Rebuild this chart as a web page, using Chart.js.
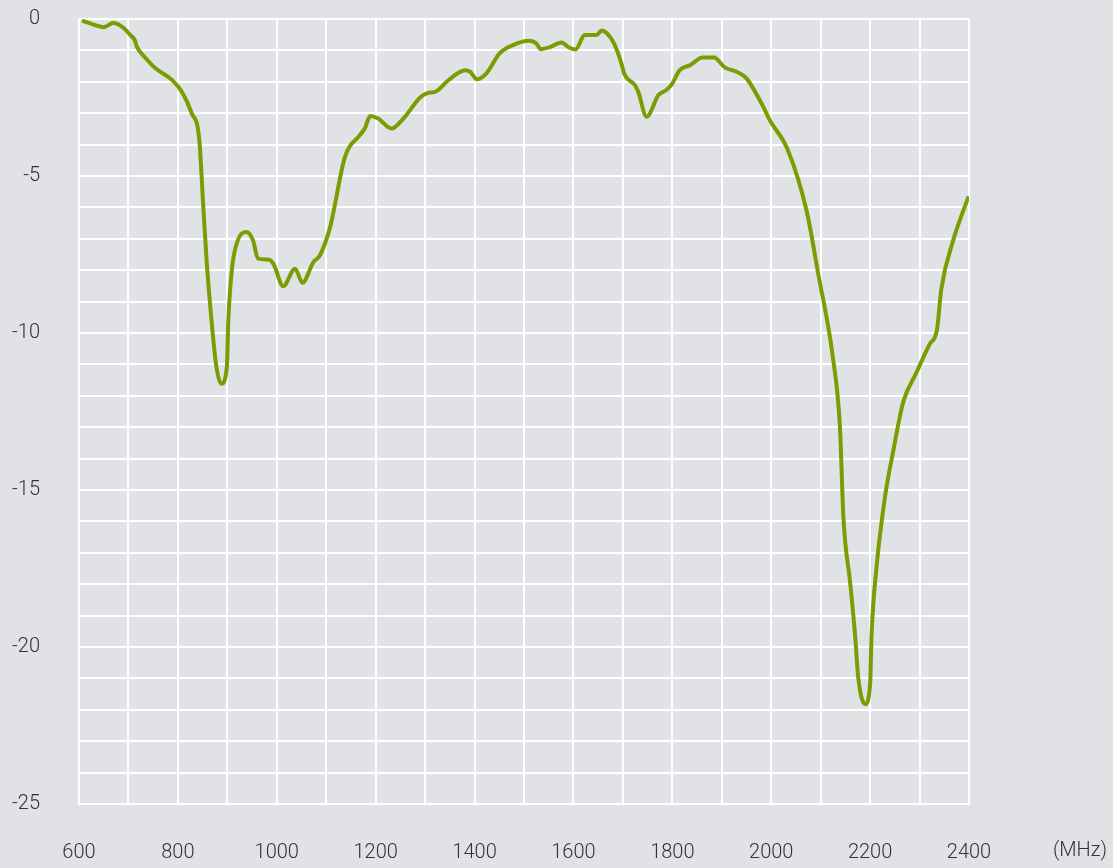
<!DOCTYPE html>
<html>
<head>
<meta charset="utf-8">
<script src="https://cdn.jsdelivr.net/npm/chart.js@4/dist/chart.umd.min.js"></script>
<style>
  html, body { margin: 0; padding: 0; background: #e1e2e6; }
  #wrap { width: 1113px; height: 868px; }
</style>
</head>
<body>
<div id="wrap"><canvas id="chart"></canvas></div>
<script>
// Frequency (MHz) and return loss (dB)
const freqs = [
  606, 642, 650, 669, 690, 703, 713, 717, 735, 754, 788, 808, 828, 843, 851, 858, 868, 878, 888, 899,
  902, 909, 919, 939, 952, 962, 983, 993, 1013, 1037, 1052, 1074, 1087, 1108, 1138, 1168, 1178, 1189,
  1205, 1232, 1256, 1290, 1303, 1323, 1347, 1381, 1391, 1405, 1424, 1451, 1478, 1509, 1525, 1534,
  1552, 1576, 1590, 1604, 1623, 1647, 1657, 1681, 1695, 1704, 1724, 1731, 1748, 1772, 1788, 1798,
  1815, 1836, 1861, 1884, 1906, 1930, 1950, 1984, 1997, 2033, 2072, 2095, 2124, 2139, 2146, 2160,
  2170, 2176, 2190, 2200, 2203, 2213, 2230, 2247, 2267, 2294, 2321, 2335, 2344, 2368, 2399
];
const values = [
  -0.05, -0.24, -0.26, -0.13, -0.28, -0.5, -0.68, -0.88, -1.25, -1.56, -1.94, -2.32, -3.0, -3.8, -5.87, -7.68, -9.6, -11.09, -11.62, -11.09,
  -9.6, -8.0, -7.15, -6.78, -7.05, -7.63, -7.66, -7.79, -8.51, -7.95, -8.40, -7.74, -7.53, -6.62, -4.39, -3.70, -3.49, -3.09,
  -3.17, -3.49, -3.17, -2.50, -2.37, -2.30, -1.95, -1.63, -1.68, -1.92, -1.73, -1.09, -0.83, -0.69, -0.78, -0.96,
  -0.90, -0.75, -0.90, -0.97, -0.51, -0.51, -0.37, -0.75, -1.31, -1.79, -2.10, -2.32, -3.11, -2.42, -2.26, -2.10,
  -1.63, -1.47, -1.23, -1.23, -1.54, -1.68, -1.89, -2.80, -3.22, -4.15, -6.14, -8.11, -10.7, -13.0, -15.87, -18.0,
  -19.7, -20.97, -21.82, -21.18, -19.59, -17.46, -15.23, -13.74, -12.2, -11.25, -10.34, -9.92, -8.6, -7.05, -5.65
];
const xLabelEvery = 200;
const yLabelEvery = 5;
const unitLabel = '(MHz)';

const fontFamily = "'Liberation Sans Narrow', Roboto, sans-serif";
const fontWeight = 300;
const fontSize = 20;
const textColor = '#333333';

const unitPlugin = {
  id: 'unitLabel',
  afterDraw(chart) {
    const ctx = chart.ctx;
    const xs = chart.scales.x;
    ctx.save();
    ctx.font = `${fontWeight} ${fontSize}px ${fontFamily}`;
    ctx.fillStyle = textColor;
    ctx.textAlign = 'right';
    ctx.textBaseline = 'middle';
    ctx.fillText(unitLabel, chart.width - 6, xs.bottom - 17);
    ctx.restore();
  }
};

const ctx = document.getElementById('chart').getContext('2d');
new Chart(ctx, {
  type: 'line',
  data: {
    datasets: [{
      data: freqs.map((f, i) => ({ x: f, y: values[i] })),
      borderColor: '#7b9c03',
      borderWidth: 4,
      pointRadius: 0,
      cubicInterpolationMode: 'monotone',
      fill: false
    }]
  },
  options: {
    responsive: true,
    maintainAspectRatio: false,
    animation: false,
    layout: { padding: { top: 19, right: 144, left: 0, bottom: 0 } },
    plugins: { legend: { display: false }, tooltip: { enabled: false } },
    scales: {
      x: {
        type: 'linear',
        min: 600,
        max: 2400,
        // tick marks are invisible, their length only pushes the labels off the axis
        grid: { color: '#ffffff', lineWidth: 2, drawTicks: true, tickLength: 37, tickColor: 'rgba(0,0,0,0)' },
        border: { color: '#ffffff', width: 2 },
        ticks: {
          stepSize: 100,
          autoSkip: false,
          maxRotation: 0,
          padding: 0,
          color: textColor,
          font: { family: fontFamily, size: fontSize, weight: fontWeight },
          callback: v => (v % xLabelEvery === 0 ? v : '')
        },
        afterFit: s => { s.height = 64; }
      },
      y: {
        min: -25,
        max: 0,
        grid: { color: '#ffffff', lineWidth: 2, drawTicks: true, tickLength: 39, tickColor: 'rgba(0,0,0,0)' },
        border: { color: '#ffffff', width: 2 },
        ticks: {
          stepSize: 1,
          autoSkip: false,
          padding: 0,
          color: textColor,
          font: { family: fontFamily, size: fontSize, weight: fontWeight },
          callback: v => (v % yLabelEvery === 0 ? v : '')
        },
        afterFit: s => { s.width = 79; }
      }
    }
  },
  plugins: [unitPlugin]
});
</script>
</body>
</html>
